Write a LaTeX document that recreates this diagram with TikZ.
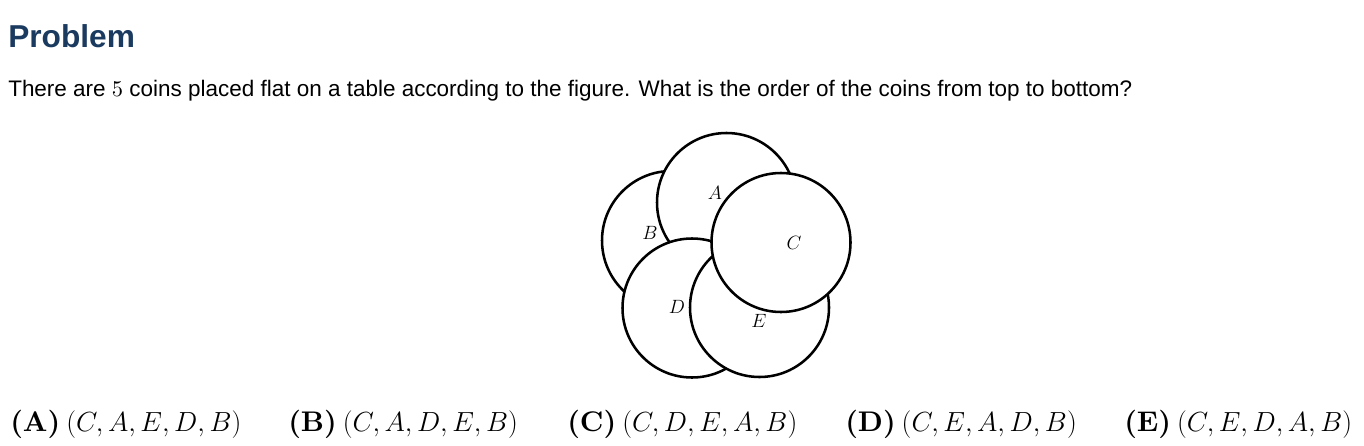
\documentclass[tikz,border=0pt]{standalone}
\usepackage[no-math]{fontspec}
\setmainfont{Liberation Sans}
\newfontfamily\lmbf{lmroman10-bold.otf}
\definecolor{titleblue}{RGB}{27,58,95}
\newcommand{\optgap}{\hspace{4.5pt}}
\tikzset{
  coin/.style={draw=black, fill=white, line width=1.9pt},
  coinlabel/.style={inner sep=0pt, font=\fontsize{13.5}{15}\selectfont},
  choice/.style={anchor=base west, inner sep=0pt, font=\fontsize{21.3}{26}\selectfont},
  txt/.style={anchor=base west, inner sep=0pt}
}
\begin{document}
\begin{tikzpicture}[x=0.75pt,y=-0.75pt]
\useasboundingbox (0,0) rectangle (1364,446);
% heading and statement
\node[txt, text=titleblue] (title) at (8,47) {\resizebox{95pt}{!}{\bfseries Problem}};
\node[txt] (stmt) at (8,96) {\resizebox{843pt}{!}{There are $5$ coins placed flat on a table according to the figure. What is the order of the coins from top to bottom?}};
% coins, bottom to top: B, A, D, E, C
\def\R{69.5}
\draw[coin] (671.5,240.5) circle[radius=\R];
\draw[coin] (726.5,202.5) circle[radius=\R];
\draw[coin] (692,308) circle[radius=\R];
\draw[coin] (759.5,307.5) circle[radius=\R];
\draw[coin] (781,242.5) circle[radius=\R];
\node[coinlabel] (la) at (715,193) {$A$};
\node[coinlabel] (lb) at (650,233) {$B$};
\node[coinlabel] (lc) at (794,243) {$C$};
\node[coinlabel] (ld) at (677,307) {$D$};
\node[coinlabel] (le) at (759,321) {$E$};
% choices
\node[choice] (ca) at (10,431) {{\lmbf (A)}\optgap$(C, A, E, D, B)$};
\node[choice] (cb) at (288,431) {{\lmbf (B)}\optgap$(C, A, D, E, B)$};
\node[choice] (cc) at (567,431) {{\lmbf (C)}\optgap$(C, D, E, A, B)$};
\node[choice] (cd) at (845,431) {{\lmbf (D)}\optgap$(C, E, A, D, B)$};
\node[choice] (ce) at (1124,431) {{\lmbf (E)}\optgap$(C, E, D, A, B)$};
\end{tikzpicture}
\end{document}
